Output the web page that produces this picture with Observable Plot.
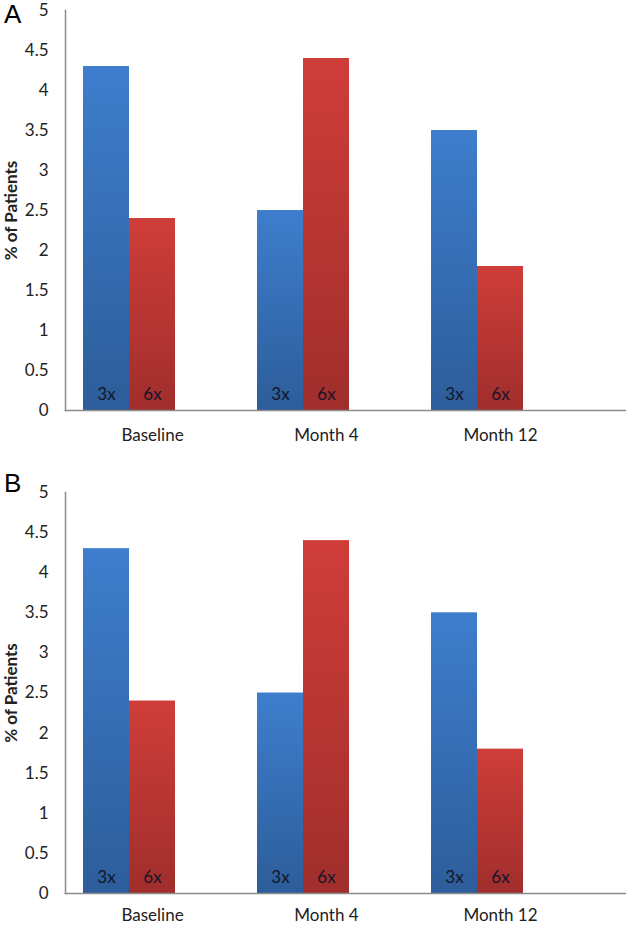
<!DOCTYPE html>
<html>
<head>
<meta charset="utf-8">
<script src="https://cdn.jsdelivr.net/npm/d3@7"></script>
<script src="https://cdn.jsdelivr.net/npm/@observablehq/plot@0.6"></script>
<style>
  html, body { margin: 0; padding: 0; background: #fff; }
  #wrap { position: relative; width: 626px; height: 925px; overflow: hidden; }
  #wrap svg { position: absolute; left: 0; display: block; }
  .letter { position: absolute; font-family: "Liberation Sans", Arial, sans-serif; font-size: 26px; color: #000; line-height: 1; }
  g[aria-label="y-axis label"] text { font-weight: bold; font-size: 17px; }
</style>
</head>
<body>
<div id="wrap"></div>
<script>
// ---- Data ----
const categories = ["Baseline", "Month 4", "Month 12"];
const series = ["3x", "6x"];
const panelA_3x = [4.3, 2.5, 3.5];
const panelA_6x = [2.4, 4.4, 1.8];
const panelB_3x = [4.3, 2.5, 3.5];
const panelB_6x = [2.4, 4.4, 1.8];
const yTicks = [0, 0.5, 1, 1.5, 2, 2.5, 3, 3.5, 4, 4.5, 5];
const yTitle = "% of Patients";
const panelLetters = ["A", "B"];

function rows(v3, v6) {
  const out = [];
  categories.forEach((c, i) => {
    out.push({category: c, series: series[0], value: v3[i]});
    out.push({category: c, series: series[1], value: v6[i]});
  });
  return out;
}

function addGradients(svg, prefix) {
  const ns = "http://www.w3.org/2000/svg";
  const defs = document.createElementNS(ns, "defs");
  const specs = [
    [prefix + "blue", "#3e7ecd", "#2d5d9a"],
    [prefix + "red", "#cf3d39", "#a02e2c"]
  ];
  for (const [id, top, bottom] of specs) {
    const g = document.createElementNS(ns, "linearGradient");
    g.setAttribute("id", id);
    g.setAttribute("x1", "0"); g.setAttribute("y1", "0");
    g.setAttribute("x2", "0"); g.setAttribute("y2", "1");
    const s1 = document.createElementNS(ns, "stop");
    s1.setAttribute("offset", "0"); s1.setAttribute("stop-color", top);
    const s2 = document.createElementNS(ns, "stop");
    s2.setAttribute("offset", "1"); s2.setAttribute("stop-color", bottom);
    g.appendChild(s1); g.appendChild(s2);
    defs.appendChild(g);
  }
  svg.insertBefore(defs, svg.firstChild);
}

function panel(data, prefix, height, marginTop, marginBottom, labelPad) {
  const svg = Plot.plot({
    width: 626,
    height,
    marginLeft: 65,
    marginRight: 0,
    marginTop,
    marginBottom,
    style: {fontFamily: "Lato, 'Open Sans', sans-serif", fontSize: "17px", color: "#222", background: "transparent"},
    fx: {domain: categories, paddingInner: 0, paddingOuter: 0.112, align: 0, axis: "bottom",
         tickSize: 0, tickPadding: labelPad, label: null},
    x: {domain: series, paddingInner: 0, paddingOuter: 0.891, align: 0.22, axis: null},
    y: {domain: [0, 5], ticks: yTicks, tickFormat: d => String(d), tickSize: 0, tickPadding: 17,
        label: yTitle, labelAnchor: "center", labelArrow: "none", labelOffset: 61},
    color: {type: "ordinal", domain: series, range: ["url(#" + prefix + "blue)", "url(#" + prefix + "red)"]},
    marks: [
      Plot.barY(data, {fx: "category", x: "series", y: "value", fill: "series"}),
      Plot.text(data, {fx: "category", x: "series", y: 0, text: "series", dy: -16,
                       fill: "#15152a", fontSize: 17}),
      Plot.frame({anchor: "left", facet: "super", stroke: "#8c8c8c", strokeWidth: 1.5}),
      Plot.frame({anchor: "bottom", facet: "super", stroke: "#8c8c8c", strokeWidth: 1.5, insetRight: -39})
    ]
  });
  addGradients(svg, prefix);
  return svg;
}

const wrap = document.getElementById("wrap");
const svgA = panel(rows(panelA_3x, panelA_6x), "a", 470, 10, 60, 18);
svgA.style.top = "0px";
wrap.appendChild(svgA);
const svgB = panel(rows(panelB_3x, panelB_6x), "b", 455, 22, 32, 15);
svgB.style.top = "470px";
wrap.appendChild(svgB);

const tops = [1, 470];
panelLetters.forEach((L, i) => {
  const d = document.createElement("div");
  d.className = "letter";
  d.textContent = L;
  d.style.left = "4px";
  d.style.top = tops[i] + "px";
  wrap.appendChild(d);
});
</script>
</body>
</html>
